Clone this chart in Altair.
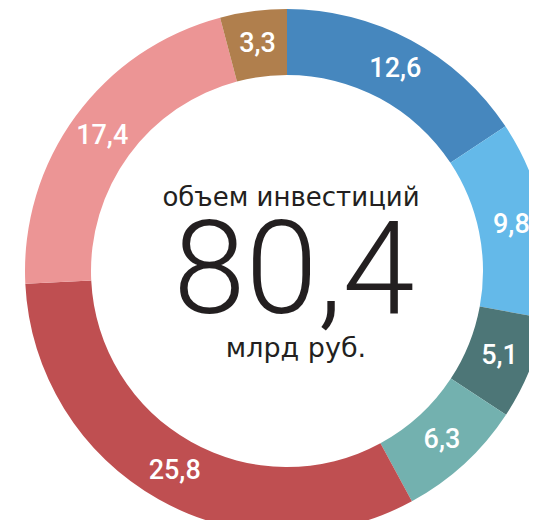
import altair as alt
import pandas as pd

labels = ["12,6", "9,8", "5,1", "6,3", "25,8", "17,4", "3,3"]
values = [12.6, 9.8, 5.1, 6.3, 25.8, 17.4, 3.3]
colors = ["#4687BE", "#64B9E9", "#4D7677", "#73B1AF", "#BF4F51", "#EC9595", "#B07F4D"]
order = list(range(len(values)))

df = pd.DataFrame({"label": labels, "value": values, "order": order})

CX, CY = 279, 263
FONT = "Roboto"
FONT2 = "DejaVu Sans"

base = alt.Chart(df).encode(
    theta=alt.Theta("value:Q", stack=True),
    order=alt.Order("order:Q"),
)

arcs = base.mark_arc(outerRadius=262, innerRadius=196).encode(
    color=alt.Color("label:N", scale=alt.Scale(domain=labels, range=colors), legend=None),
    x=alt.value(CX),
    y=alt.value(CY),
)

lbls = base.mark_text(radius=229, fontSize=27, fontWeight=500, font=FONT, color="white").encode(
    text="label:N",
    x=alt.value(CX),
    y=alt.value(CY),
)

t1 = alt.Chart(pd.DataFrame({"t": ["объем инвестиций"]})).mark_text(
    font=FONT2, fontSize=26, color="#231F20", baseline="alphabetic"
).encode(text="t:N", x=alt.value(291 - 8), y=alt.value(206 - 8))

t2 = alt.Chart(pd.DataFrame({"t": ["80,4"]})).mark_text(
    font=FONT, fontSize=130, fontWeight=300, color="#231F20", baseline="alphabetic"
).encode(text="t:N", x=alt.value(294 - 8), y=alt.value(313 - 8))

t3 = alt.Chart(pd.DataFrame({"t": ["млрд руб."]})).mark_text(
    font=FONT2, fontSize=27, color="#231F20", baseline="alphabetic"
).encode(text="t:N", x=alt.value(296 - 8), y=alt.value(357 - 8))

chart = alt.layer(arcs, lbls, t1, t2, t3).properties(
    width=521, height=512, padding=0, autosize=alt.AutoSizeParams(type="none")
).configure_view(stroke=None)

chart.save("out.html", embed_options={"renderer": "svg", "actions": False})
